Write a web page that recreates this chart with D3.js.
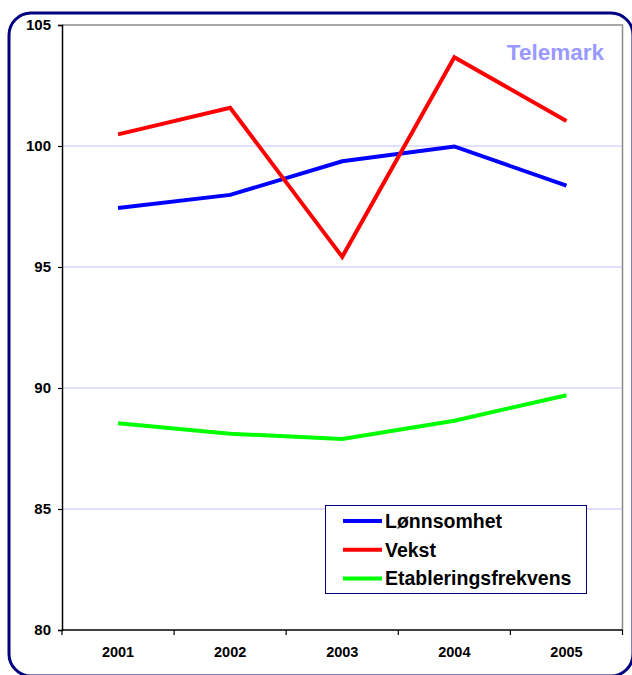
<!DOCTYPE html>
<html>
<head>
<meta charset="utf-8">
<script src="https://cdn.jsdelivr.net/npm/d3@7"></script>
<style>
	html, body { margin: 0; padding: 0; background: #fff; }
	svg { display: block; font-family: "Liberation Sans", Arial, sans-serif; }
</style>
</head>
<body>
<div id="chart"></div>
<script>
// data
const years = ["2001", "2002", "2003", "2004", "2005"];
const lonnsomhet = [97.44, 97.98, 99.37, 99.98, 98.36];
const vekst = [100.48, 101.58, 95.42, 103.67, 101.03];
const etablering = [88.54, 88.11, 87.89, 88.65, 89.70];
const seriesNames = ["Lønnsomhet", "Vekst", "Etableringsfrekvens"];
const yTicks = [80, 85, 90, 95, 100, 105];
const regionName = "Telemark";

const width = 632, height = 675;
const colors = ["#0000ff", "#ff0000", "#00ff00"];
const series = [lonnsomhet, vekst, etablering];

const svg = d3.select("#chart").append("svg")
	.attr("width", width)
	.attr("height", height);

// outer rounded frame
svg.append("rect")
	.attr("x", 9).attr("y", 13)
	.attr("width", 624).attr("height", 663)
	.attr("rx", 22).attr("ry", 22)
	.attr("fill", "none")
	.attr("stroke", "#000080")
	.attr("stroke-width", 3);

const plot = { left: 62, top: 25, right: 622.5, bottom: 630 };

const x = d3.scaleBand()
	.domain(years)
	.range([plot.left, plot.right])
	.padding(0);

const y = d3.scaleLinear()
	.domain([80, 105])
	.range([plot.bottom, plot.top]);

// grid lines
svg.append("g")
	.selectAll("line")
	.data(yTicks.filter(d => d > 80 && d < 105))
	.join("line")
	.attr("x1", plot.left).attr("x2", plot.right)
	.attr("y1", d => y(d)).attr("y2", d => y(d))
	.attr("stroke", "#d4d4ff")
	.attr("stroke-width", 1.5);

// plot area border (top and right)
svg.append("path")
	.attr("d", `M${plot.left},${y(105)}H${plot.right}V${plot.bottom}`)
	.attr("fill", "none")
	.attr("stroke", "#8a8a8a")
	.attr("stroke-width", 1.5);

// y axis
const yAxis = svg.append("g")
	.attr("transform", `translate(${plot.left},0)`)
	.call(d3.axisLeft(y).tickValues(yTicks).tickSize(4).tickPadding(7));
yAxis.select(".domain").attr("stroke", "#000").attr("stroke-width", 1.5);
yAxis.selectAll(".tick line").attr("stroke", "#000").attr("stroke-width", 1.2);
yAxis.selectAll("text")
	.attr("fill", "#000")
	.style("font-size", "15px")
	.style("font-weight", "bold")
	.style("font-family", "'Liberation Sans', Arial, sans-serif");

// x axis
const xAxis = svg.append("g")
	.attr("transform", `translate(0,${plot.bottom})`)
	.call(d3.axisBottom(x).tickSize(0).tickPadding(17));
xAxis.select(".domain").remove();
xAxis.selectAll("text")
	.attr("fill", "#000")
	.style("font-size", "14.5px")
	.style("font-weight", "bold")
	.style("font-family", "'Liberation Sans', Arial, sans-serif");

svg.append("line")
	.attr("x1", plot.left).attr("x2", plot.right)
	.attr("y1", plot.bottom).attr("y2", plot.bottom)
	.attr("stroke", "#000").attr("stroke-width", 1.5);

// tick marks between categories
svg.append("g")
	.selectAll("line")
	.data(years.map(d => x(d)).concat([x(years[years.length - 1]) + x.bandwidth()]))
	.join("line")
	.attr("x1", d => d).attr("x2", d => d)
	.attr("y1", plot.bottom).attr("y2", plot.bottom + 5)
	.attr("stroke", "#000").attr("stroke-width", 1.2);

// lines
const line = d3.line()
	.x((d, i) => x(years[i]) + x.bandwidth() / 2)
	.y(d => y(d));

svg.append("g")
	.selectAll("path")
	.data(series)
	.join("path")
	.attr("d", line)
	.attr("fill", "none")
	.attr("stroke", (d, i) => colors[i])
	.attr("stroke-width", 4)
	.attr("stroke-linejoin", "miter");

// region title
svg.append("text")
	.attr("x", 604).attr("y", 60)
	.attr("text-anchor", "end")
	.attr("fill", "#9999ff")
	.style("font-size", "22.5px")
	.style("font-weight", "bold")
	.text(regionName);

// legend
const legend = svg.append("g");
legend.append("rect")
	.attr("x", 325.5).attr("y", 505.5)
	.attr("width", 261).attr("height", 88)
	.attr("fill", "#fff")
	.attr("stroke", "#000080")
	.attr("stroke-width", 1);

const rows = legend.selectAll("g")
	.data(seriesNames)
	.join("g")
	.attr("transform", (d, i) => `translate(0,${521 + i * 28.7})`);

rows.append("line")
	.attr("x1", 343).attr("x2", 382)
	.attr("stroke", (d, i) => colors[i])
	.attr("stroke-width", 4);

rows.append("text")
	.attr("x", 385)
	.attr("dy", "0.36em")
	.attr("fill", "#000")
	.style("font-size", "19.5px")
	.style("font-weight", "bold")
	.text(d => d);
</script>
</body>
</html>
